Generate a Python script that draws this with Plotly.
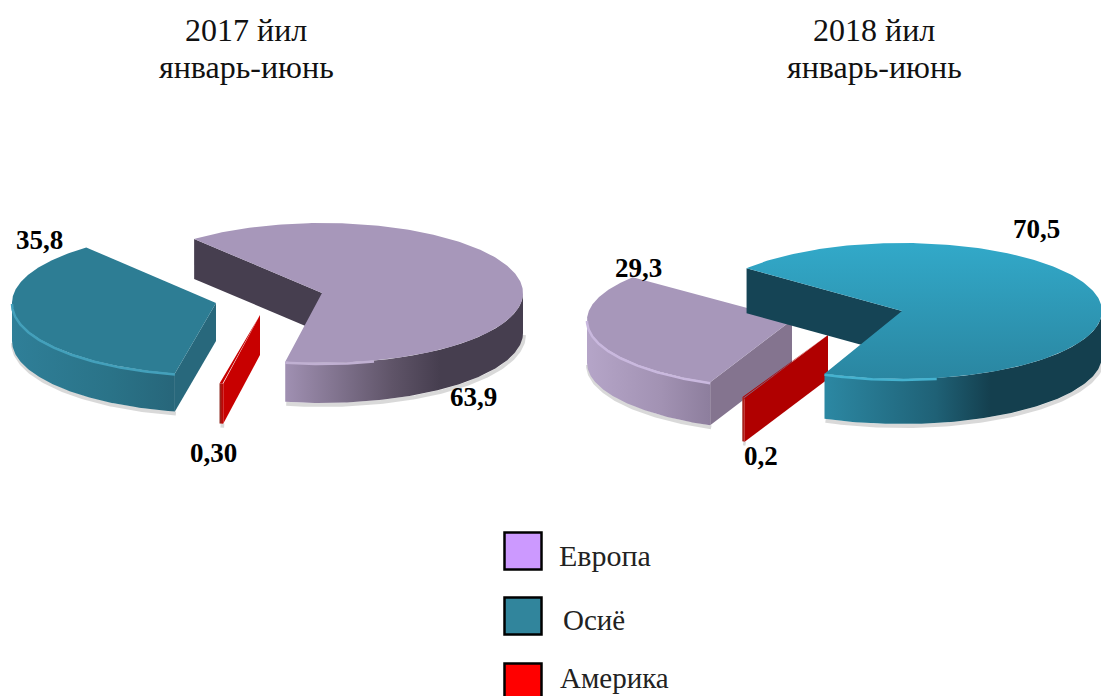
import numpy as np
import plotly.graph_objects as go

W, H = 1101, 696
CATEGORIES = ["Европа", "Америка", "Осиё"]
VALUES_2017 = [63.9, 0.30, 35.8]
VALUES_2018 = [70.5, 0.2, 29.3]   # Осиё, Америка, Европа (clockwise)
LABELS_2017 = ["63,9", "0,30", "35,8"]
LABELS_2018 = ["70,5", "0,2", "29,3"]
LEGEND_ORDER = ["Европа", "Осиё", "Америка"]
LEGEND_COLORS = ["#cc99ff", "#31859c", "#ff0000"]
TITLES = [("2017 йил", "январь-июнь"), ("2018 йил", "январь-июнь")]

ROT_2017 = -39.5
ROT_2018 = -51

fig = go.Figure()


def arc(c, rx, ry, a0, a1, n=120):
    t = np.radians(np.linspace(a0, a1, n))
    return c[0] + rx * np.sin(t), c[1] - ry * np.cos(t)


def poly(x, y, color=None, grad=None):
    kw = dict(x=list(x), y=list(y), mode="lines", fill="toself", line=dict(width=0),
              hoverinfo="skip", showlegend=False)
    if grad:
        kw["fillgradient"] = dict(type=grad[0], colorscale=grad[1])
        kw["fillcolor"] = grad[1][0][1]
    else:
        kw["fillcolor"] = color
    fig.add_trace(go.Scatter(**kw))


def line(x, y, color, width):
    fig.add_trace(go.Scatter(x=list(x), y=list(y), mode="lines", line=dict(color=color, width=width),
                             hoverinfo="skip", showlegend=False))


def wedge(c, rx, ry, a0, a1, depth, st):
    x0, y0 = arc(c, rx, ry, a0, a0, 1)
    r0, r1 = max(a0, 90), min(a1, 270)
    ax, ay = arc(c, rx, ry, r0, r1)
    # soft shadow under the rim
    line(ax + 1, ay + depth + 2, "rgba(120,120,120,0.28)", 4)
    # the visible cut face lies on the start side of each slice
    poly([x0[0], c[0], c[0], x0[0]], [y0[0], c[1], c[1] + depth, y0[0] + depth], st["face"])
    # rim
    poly(np.r_[ax, ax[::-1]], np.r_[ay, (ay + depth)[::-1]], grad=("horizontal", st["rim"]))
    # top surface
    tx, ty = arc(c, rx, ry, a0, a1, 240)
    top = st["top"]
    if isinstance(top, str):
        poly(np.r_[c[0], tx], np.r_[c[1], ty], top)
    else:
        poly(np.r_[c[0], tx], np.r_[c[1], ty], grad=("vertical", top))
    # bevel highlight
    if st.get("bevel"):
        s0, s1 = st.get("bevel_range", (r0, r1))
        bx, by = arc(c, rx, ry, s0, s1)
        line(bx, by + 1, st["bevel"], 2.5)


def sweep(vals, rot):
    total = sum(vals)
    edges = [rot]
    for v in vals:
        edges.append(edges[-1] + v / total * 360)
    return edges


# 2017
e = sweep(VALUES_2017, ROT_2017)
wedge((322, 293), 201, 70, e[0], e[1], 40, dict(
    face="#463e4f", top="#a797ba",
    rim=[[0, "#a090b2"], [0.45, "#5f5468"], [0.65, "#463e4f"], [1, "#463e4f"]],
    bevel="#c0b0d2", bevel_range=(165, e[1])))
wedge((216, 303), 204, 72, e[2], e[3], 38, dict(
    face="#28687c", top="#2d7d94",
    rim=[[0, "#2f7f98"], [0.6, "#2a7388"], [1, "#27667a"]],
    bevel="#43a0bb"))
wedge((260, 315), 201, 70, e[1], e[2], 40, dict(
    face="#c80000", top="#c80000", rim=[[0, "#8f2a20"], [1, "#c80000"]]))

# 2018
e = sweep(VALUES_2018, ROT_2018)
wedge((792, 320), 205, 68, e[2], e[3], 43, dict(
    face="#84748f", top="#a797ba",
    rim=[[0, "#b5a5c8"], [0.6, "#a292b3"], [1, "#8d7e9d"]],
    bevel="#c9b8de"))
wedge((828, 335), 215, 68, e[1], e[2], 44, dict(
    face="#b00000", top="#b00000", rim=[[0, "#a8443a"], [1, "#b00000"]]))
wedge((902, 311), 200, 68, e[0], e[1], 45, dict(
    face="#154455", top=[[0, "#2a86a1"], [1, "#32a9c9"]],
    rim=[[0, "#2c88a3"], [0.4, "#1f6176"], [0.6, "#143f4e"], [1, "#143f4e"]],
    bevel="#45b2cf", bevel_range=(170, e[1])))

# Legend
LEG_X = 523
LEG_Y = [551, 616, 682]
LEG_TEXT_X = [557, 561, 558]
LEG_TEXT_Y = [555, 620, 678]
LEG_SIZE = [30, 29, 29]
fig.add_trace(go.Scatter(x=[LEG_X] * 3, y=LEG_Y, mode="markers", hoverinfo="skip", showlegend=False,
                         marker=dict(symbol="square", size=37, color=LEGEND_COLORS,
                                     line=dict(color="#000000", width=2.5))))

ann = []
for x, (t1, t2) in zip((246, 874), TITLES):
    for y, t in ((30, t1), (67, t2)):
        ann.append(dict(x=x, y=y, text=t, showarrow=False, xanchor="center", yanchor="middle",
                        font=dict(family="Liberation Serif", size=32, color="#111111")))
LABEL_POS = [(473, 397), (213, 453), (39, 240), (1036, 229), (761, 456), (638, 268)]
for (x, y), t in zip(LABEL_POS, LABELS_2017 + LABELS_2018):
    ann.append(dict(x=x, y=y, text=f"<b>{t}</b>", showarrow=False, xanchor="center", yanchor="middle",
                    font=dict(family="Liberation Serif", size=27, color="#000000")))
for x, y, t, s in zip(LEG_TEXT_X, LEG_TEXT_Y, LEGEND_ORDER, LEG_SIZE):
    ann.append(dict(x=x, y=y, text=t, showarrow=False, xanchor="left", yanchor="middle",
                    font=dict(family="Liberation Serif", size=s, color="#222222")))

fig.update_layout(
    width=W, height=H, margin=dict(l=0, r=0, t=0, b=0), paper_bgcolor="white", plot_bgcolor="white",
    xaxis=dict(range=[0, W], visible=False, fixedrange=True),
    yaxis=dict(range=[H, 0], visible=False, fixedrange=True),
    annotations=ann, showlegend=False,
)
fig.write_html("out.html", config=dict(displayModeBar=False),
               post_script="document.body.style.margin='0';document.body.style.overflow='hidden';")
